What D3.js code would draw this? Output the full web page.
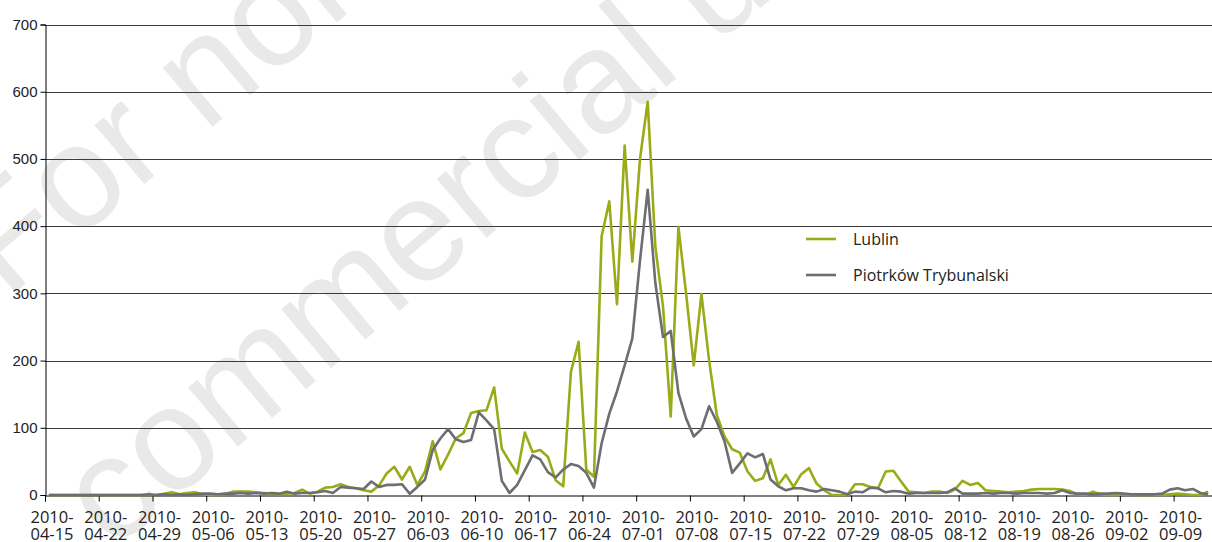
<!DOCTYPE html>
<html>
<head>
<meta charset="utf-8">
<script src="https://cdn.jsdelivr.net/npm/d3@7"></script>
<style>
  body { margin: 0; background: #fff; }
  svg { display: block; font-family: "Open Sans", sans-serif; }
</style>
</head>
<body>
<svg width="1212" height="542"></svg>
<script>
// daily counts, 2010-04-15 .. 2010-09-13
const startDay = new Date(Date.UTC(2010, 3, 15));
const endDay = new Date(Date.UTC(2010, 8, 14));
const days = d3.utcDay.range(startDay, endDay);

const lublin = [
  0,0,0,0,0,0,0,0,0,0,0,0,0,0,0,
  2,4,1,3,4,1,0,0,2,5,5,5,4,3,2,1,2,3,8,2,5,11,12,16,12,10,7,5,
  14,32,42,23,42,15,35,80,38,60,84,92,122,125,126,160,69,50,32,93,64,67,57,22,13,
  183,228,38,27,385,437,284,520,347,500,585,369,280,117,399,300,193,299,200,119,87,68,63,
  35,21,25,53,15,30,12,31,40,17,7,0,0,0,16,16,12,10,35,36,20,5,4,3,5,5,3,8,
  21,15,18,7,6,5,4,5,6,8,9,9,9,8,6,1,0,5,1,0,0,1,1,0,0,0,0,1,2,1,0,0,5
];

const piotrkow = [
  0,0,0,0,0,0,0,0,0,0,0,0,0,1,0,
  1,0,1,0,1,2,2,1,2,2,3,2,3,2,3,2,5,2,3,3,4,6,3,12,11,10,9,20,
  12,15,15,16,2,12,23,67,84,98,83,79,82,123,111,98,21,3,15,37,59,53,34,26,38,
  46,43,33,11,77,121,154,193,233,349,454,315,235,244,152,114,87,98,132,109,80,33,47,
  62,56,61,23,13,7,10,10,7,5,9,7,5,1,5,4,11,10,4,6,5,2,3,3,3,3,4,10,
  2,2,2,3,2,3,3,2,3,3,3,2,3,7,3,2,2,1,2,2,3,2,1,1,1,1,2,8,10,7,9,3,1
];

const seriesNames = ["Lublin", "Piotrków Trybunalski"];
const seriesColors = ["#9aab17", "#6d6e71"];
const yTicks = [0, 100, 200, 300, 400, 500, 600, 700];
const xTickDays = d3.utcDay.range(startDay, endDay, 7);

const svg = d3.select("svg");
const plotLeft = 45, plotRight = 1212, plotTop = 24.5, plotBottom = 495;

const x = d3.scaleUtc().domain([startDay, endDay]).range([plotLeft, plotRight]);
const y = d3.scaleLinear().domain([0, 700]).range([plotBottom, plotTop]);
const mid = d => d3.utcHour.offset(d, 12);

// watermark
const wm = svg.append("g").attr("fill", "#e9e9e9")
  .style("font-family", "'Liberation Sans', Arial, sans-serif")
  .style("font-size", "146px");
wm.append("text").attr("transform", "translate(6,300) rotate(-40)").text("For non-");
wm.append("text").attr("transform", "translate(112,552) rotate(-40)").text("commercial use only");

// gridlines
svg.append("g")
  .selectAll("line")
  .data(yTicks.slice(1))
  .join("line")
  .attr("x1", plotLeft).attr("x2", plotRight)
  .attr("y1", d => Math.round(y(d)) + 0.5).attr("y2", d => Math.round(y(d)) + 0.5)
  .attr("stroke", "#3c3c3c").attr("stroke-width", 1.2);

// y axis
const yAxis = svg.append("g")
  .attr("transform", `translate(${plotLeft + 0.5},0)`)
  .call(d3.axisLeft(y).tickValues(yTicks).tickSize(5).tickPadding(3));
yAxis.select(".domain").attr("stroke", "#000");
yAxis.selectAll("text").style("font-size", "15px").attr("fill", "#222");

// x axis
const xAxis = svg.append("g")
  .attr("transform", `translate(0,${plotBottom + 0.5})`)
  .call(d3.axisBottom(x).tickValues(xTickDays).tickSize(6).tickFormat(""));
xAxis.select(".domain").attr("stroke", "#000");

const xLab = svg.append("g")
  .selectAll("text")
  .data(xTickDays)
  .join("text")
  .attr("text-anchor", "middle")
  .attr("fill", "#222")
  .style("font-size", "16.5px")
  .attr("transform", d => `translate(${x(d) + 7},0)`);
xLab.append("tspan").attr("x", 0).attr("y", 523).text(d => d3.utcFormat("%Y-")(d));
xLab.append("tspan").attr("x", 0).attr("y", 540).text(d => d3.utcFormat("%m-%d")(d));

// series lines
const line = d3.line()
  .x((v, i) => x(mid(days[i])))
  .y(v => y(v));

[lublin, piotrkow].forEach((vals, k) => {
  svg.append("path")
    .datum(vals)
    .attr("fill", "none")
    .attr("stroke", seriesColors[k])
    .attr("stroke-width", 2.6)
    .attr("stroke-linejoin", "round")
    .attr("d", line);
});

// legend
const legend = svg.append("g")
  .selectAll("g")
  .data(seriesNames)
  .join("g")
  .attr("transform", (d, i) => `translate(806,${239 + i * 36})`);
legend.append("line")
  .attr("x1", 0).attr("x2", 30)
  .attr("stroke", (d, i) => seriesColors[i]).attr("stroke-width", 2.6);
legend.append("text")
  .attr("x", 47).attr("y", 6)
  .style("font-size", "16px").attr("fill", "#222")
  .text(d => d);
</script>
</body>
</html>
